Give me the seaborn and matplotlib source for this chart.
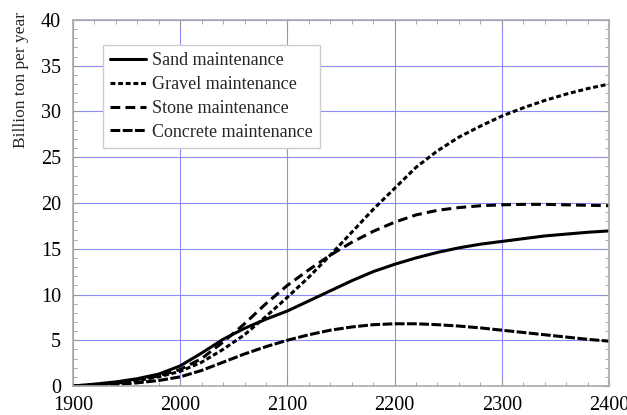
import numpy as np
import pandas as pd
import matplotlib
matplotlib.use("Agg")
import matplotlib.pyplot as plt
from matplotlib.ticker import MultipleLocator
import seaborn as sns

years = [1900, 1920, 1940, 1960, 1980, 2000, 2020, 2040, 2060, 2080, 2100,
         2120, 2140, 2160, 2180, 2200, 2220, 2240, 2260, 2280, 2300,
         2320, 2340, 2360, 2380, 2400]

sand = [0.0, 0.2, 0.45, 0.8, 1.3, 2.2, 3.6, 5.1, 6.3, 7.3, 8.2,
        9.3, 10.4, 11.5, 12.5, 13.3, 14.0, 14.6, 15.1, 15.5, 15.8,
        16.1, 16.4, 16.6, 16.8, 16.95]
gravel = [0.0, 0.1, 0.3, 0.6, 1.0, 1.6, 2.6, 4.0, 5.6, 7.6, 9.7,
          11.9, 14.3, 16.8, 19.3, 21.6, 23.9, 25.7, 27.2, 28.4, 29.5,
          30.4, 31.2, 31.9, 32.5, 33.0]
stone = [0.0, 0.15, 0.35, 0.7, 1.1, 1.8, 3.0, 4.8, 6.8, 9.0, 11.0,
         12.7, 14.3, 15.7, 16.9, 17.9, 18.7, 19.2, 19.5, 19.7, 19.8,
         19.85, 19.85, 19.8, 19.75, 19.7]
concrete = [0.0, 0.05, 0.15, 0.35, 0.6, 1.0, 1.7, 2.6, 3.5, 4.3, 5.0,
            5.6, 6.1, 6.45, 6.7, 6.8, 6.8, 6.7, 6.55, 6.35, 6.1,
            5.85, 5.6, 5.35, 5.1, 4.9]

series_names = ["Sand maintenance", "Gravel maintenance",
                "Stone maintenance", "Concrete maintenance"]
x_ticks = [1900, 2000, 2100, 2200, 2300, 2400]
y_ticks = [0, 5, 10, 15, 20, 25, 30, 35, 40]
y_label = "Billion ton per year"

df = pd.DataFrame({
    "year": years * 4,
    "value": sand + gravel + stone + concrete,
    "series": sum([[n] * len(years) for n in series_names], []),
})

sns.set_style("ticks")
plt.rcParams["font.family"] = ["Liberation Serif", "DejaVu Serif"]

fig = plt.figure(figsize=(6.27, 4.15), dpi=100)
ax = fig.add_axes([73 / 627, 1 - 386 / 415, 536 / 627, 366 / 415])

dash_map = {
    "Sand maintenance": "",
    "Gravel maintenance": (1.6, 0.9),
    "Stone maintenance": (3.2, 1.7),
    "Concrete maintenance": (3.2, 0.8),
}
sns.lineplot(data=df, x="year", y="value", style="series",
             style_order=series_names, dashes=dash_map, color="black",
             lw=2.2, ax=ax, legend=True)

ax.set_xlim(1900, 2400)
ax.set_ylim(0, 40)
ax.set_xticks(x_ticks)
ax.set_yticks(y_ticks)
ax.xaxis.set_minor_locator(MultipleLocator(20))
ax.yaxis.set_minor_locator(MultipleLocator(1))
ax.grid(True, which="major", color="#8c8cff", lw=0.8)
ax.set_axisbelow(True)
ax.tick_params(which="both", direction="in", top=True, right=True,
               colors="#999999", labelcolor="black", labelsize=14.5)
ax.tick_params(axis="y", which="major", length=5, pad=8.5)
ax.tick_params(axis="x", which="major", length=5, pad=7.5)
ax.tick_params(which="minor", length=3)
for s in ax.spines.values():
    s.set_color("#aaaaaa")
    s.set_linewidth(1.2)
ax.set_xlabel("")
ax.set_ylabel(y_label, fontsize=12.5, loc="top")
ax.yaxis.set_label_coords(-0.083, 1.022)

handles, labels = ax.get_legend_handles_labels()
leg = ax.legend(handles, labels, loc="upper left",
                bbox_to_anchor=(0.056, 0.932), borderaxespad=0,
                fontsize=13, handlelength=2.0, handletextpad=0.3,
                labelspacing=0.38, fancybox=False, framealpha=1,
                edgecolor="#cccccc", borderpad=0.4)
leg.get_frame().set_linewidth(1.0)

fig.savefig("out.png", dpi=100)
